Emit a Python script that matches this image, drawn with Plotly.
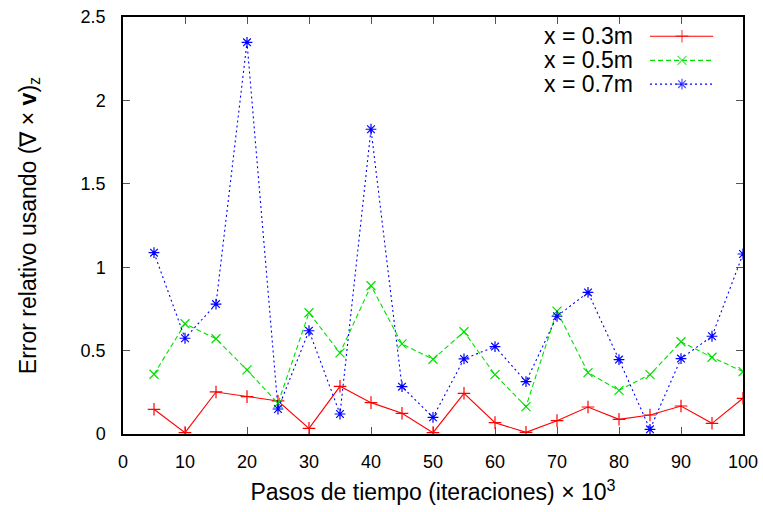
import plotly.graph_objects as go

pasos = [5, 10, 15, 20, 25, 30, 35, 40, 45, 50, 55, 60, 65, 70, 75, 80, 85, 90, 95, 100]
err_03 = [0.148, 0.008, 0.252, 0.224, 0.198, 0.034, 0.286, 0.188, 0.124, 0.008,
          0.244, 0.068, 0.010, 0.080, 0.162, 0.088, 0.114, 0.168, 0.064, 0.214]
err_05 = [0.358, 0.661, 0.571, 0.384, 0.184, 0.727, 0.486, 0.889, 0.540, 0.448,
          0.613, 0.356, 0.164, 0.737, 0.368, 0.262, 0.356, 0.553, 0.460, 0.374]
err_07 = [1.087, 0.574, 0.779, 2.348, 0.150, 0.619, 0.120, 1.827, 0.284, 0.100,
          0.450, 0.524, 0.314, 0.706, 0.849, 0.446, 0.028, 0.452, 0.586, 1.079]

series_names = ["x = 0.3m", "x = 0.5m", "x = 0.7m"]
series_vals = [err_03, err_05, err_07]
colors = ["#ff0000", "#00e000", "#0000ff"]
dashes = ["solid", "5px,3px", "2px,3px"]
symbols = ["cross-thin-open", "x-thin-open", "asterisk-open"]

FONT = "Liberation Sans, Arial, Helvetica, sans-serif"

fig = go.Figure()
for name, vals, c, d, s in zip(series_names, series_vals, colors, dashes, symbols):
    fig.add_trace(go.Scatter(
        x=pasos, y=vals, mode="lines+markers", name=name,
        line=dict(color=c, width=1.1, dash=d),
        marker=dict(symbol=s, size=9, color=c, line=dict(color=c, width=1.2)),
        showlegend=False,
    ))

# custom legend (text left of sample, gnuplot style)
leg_y = [0.954, 0.896, 0.839]
for name, c, d, s, ly in zip(series_names, colors, dashes, symbols, leg_y):
    fig.add_annotation(x=0.826, y=ly, xref="paper", yref="paper", text=name,
                       showarrow=False, xanchor="right", yanchor="middle",
                       font=dict(family=FONT, size=23, color="black"))
    fig.add_trace(go.Scatter(
        x=[0.85, 0.9016, 0.952], y=[ly, ly, ly], xaxis="x2", yaxis="y2",
        mode="lines+markers", line=dict(color=c, width=1.1, dash=d),
        marker=dict(symbol=s, size=[0, 9, 0], color=c, line=dict(color=c, width=1.2)),
        showlegend=False, hoverinfo="skip",
    ))

fig.update_layout(
    width=763, height=512,
    margin=dict(l=123, r=20, t=17, b=78),
    paper_bgcolor="white", plot_bgcolor="white",
    font=dict(family=FONT, size=18, color="black"),
    xaxis=dict(
        range=[0, 100], tickmode="linear", tick0=0, dtick=10,
        ticks="inside", ticklen=7, tickcolor="#555555", tickwidth=1.3,
        showline=True, linecolor="black", linewidth=1.5, mirror="ticks",
        showgrid=False, zeroline=False, ticklabelstandoff=11, automargin=False,
        tickfont=dict(size=18),
        title=dict(text="Pasos de tiempo (iteraciones) × 10<sup>3</sup>",
                   font=dict(size=23), standoff=13),
    ),
    yaxis=dict(
        range=[0, 2.5], tickmode="linear", tick0=0, dtick=0.5,
        ticks="inside", ticklen=7, tickcolor="#555555", tickwidth=1.3,
        showline=True, linecolor="black", linewidth=1.5, mirror="ticks",
        showgrid=False, zeroline=False, ticklabelstandoff=12, automargin=False,
        tickfont=dict(size=18),
        title=dict(text="Error relativo usando (∇ × <b>v</b>)<sub>z</sub>",
                   font=dict(size=23), standoff=38),
    ),
    xaxis2=dict(range=[0, 1], overlaying="x", visible=False, fixedrange=True),
    yaxis2=dict(range=[0, 1], overlaying="y", visible=False, fixedrange=True),
)

fig.write_html("out.html", config={"displayModeBar": False},
               post_script="document.body.style.margin='0';document.body.style.overflow='hidden';")
